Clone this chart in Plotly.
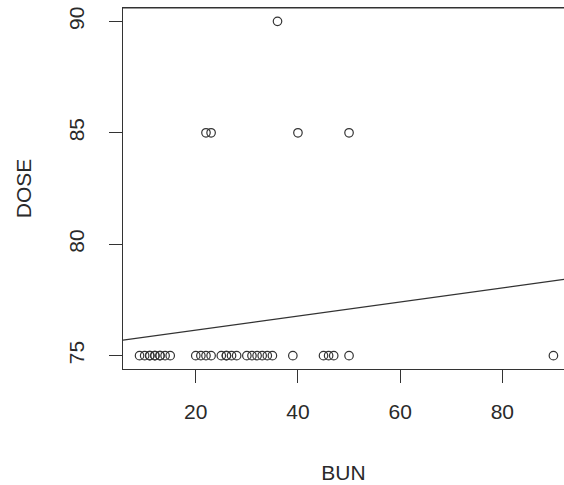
import plotly.graph_objects as go

# BUN values with their DOSE values
bun = [9, 10, 11, 11, 12, 12, 13, 13, 14, 15,
       20, 21, 22, 23, 25, 26, 26, 27, 28, 30, 31, 32, 33, 34, 35,
       39, 45, 46, 47, 50, 90,
       22, 23, 40, 50,
       36]
dose = [75] * 10 + [75] * 15 + [75] * 6 + [85] * 4 + [90]

# fitted line (abline) coefficients
intercept = 75.51
slope = 0.0316

x_ticks = [20, 40, 60, 80]
y_ticks = [75, 80, 85, 90]

x_range = [5.76, 92.07]
y_range = [74.4, 90.6]

ink = "#333333"
font = dict(family="Liberation Sans, Arial, sans-serif", size=21, color="#2a2a2a")

fig = go.Figure()
fig.add_trace(go.Scatter(
    x=bun, y=dose, mode="markers",
    marker=dict(symbol="circle-open", size=8.5, color=ink, line=dict(width=1.2, color=ink)),
    hoverinfo="skip", showlegend=False, cliponaxis=False))

lx = [x_range[0], x_range[1]]
ly = [intercept + slope * v for v in lx]
fig.add_trace(go.Scatter(x=lx, y=ly, mode="lines",
                         line=dict(color=ink, width=1.2),
                         hoverinfo="skip", showlegend=False))

fig.update_layout(
    width=564, height=485,
    margin=dict(l=123, r=0, t=8, b=116),
    paper_bgcolor="white", plot_bgcolor="white",
    font=font,
    xaxis=dict(range=x_range, tickvals=x_ticks, ticktext=[str(v) for v in x_ticks],
               showgrid=False, zeroline=False, showline=True, linecolor=ink, linewidth=1.2,
               mirror=True, ticks="outside", ticklen=13, tickcolor=ink, tickwidth=1.2,
               ticklabelstandoff=11, ticklabeloverflow="allow",
               title=dict(text="BUN", standoff=43, font=font)),
    yaxis=dict(range=y_range, tickvals=y_ticks, ticktext=[str(v) for v in y_ticks],
               showgrid=False, zeroline=False, showline=True, linecolor=ink, linewidth=1.2,
               mirror=False, ticks="outside", ticklen=13, tickcolor=ink, tickwidth=1.2,
               tickangle=-90, ticklabelstandoff=17, ticklabeloverflow="allow",
               title=dict(text="DOSE", standoff=27, font=font)),
)

# top edge of the plot box (the right edge lies outside the cropped picture)
fig.add_shape(type="line", xref="paper", yref="paper", x0=0, x1=1, y0=1, y1=1,
              line=dict(color=ink, width=1.2), layer="above")

# remove the default page margin so the 564x485 figure fills the window exactly
fig.write_html("out.html",
               config={"displayModeBar": False},
               post_script="document.body.style.margin='0px';document.body.style.overflow='hidden';")
